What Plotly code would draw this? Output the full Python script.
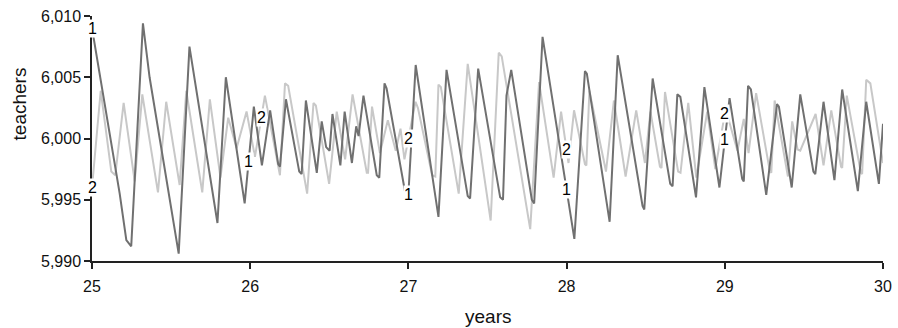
import numpy as np
import plotly.graph_objects as go

# Series 1 (dark) - turning points
t1 = [25.000, 25.175, 25.217, 25.248, 25.322, 25.364, 25.548, 25.616, 25.793, 25.846,
      25.965, 26.023, 26.074, 26.126, 26.177, 26.188, 26.226, 26.310, 26.325, 26.352,
      26.421, 26.452, 26.480, 26.502, 26.520, 26.570, 26.597, 26.643, 26.670, 26.685,
      26.716, 26.800, 26.816, 26.849, 26.862, 26.985, 26.998, 27.046, 27.190, 27.241,
      27.375, 27.390, 27.441, 27.580, 27.598, 27.620, 27.650, 27.780, 27.795, 27.848,
      28.049, 28.116, 28.128, 28.262, 28.272, 28.323, 28.480, 28.491, 28.544, 28.655,
      28.670, 28.700, 28.719, 28.818, 28.871, 28.966, 29.030, 29.110, 29.120, 29.147,
      29.165, 29.262, 29.330, 29.342, 29.423, 29.477, 29.560, 29.572, 29.624, 29.693,
      29.742, 29.841, 29.894, 29.974, 30.000]
v1 = [6009.0, 5995.5, 5991.7, 5991.2, 6009.4, 6005.0, 5990.6, 6007.5, 5993.1, 6005.0,
      5994.7, 6002.6, 5997.8, 6002.3, 5997.9, 5997.7, 6003.2, 5997.3, 5997.1, 6003.1,
      5997.2, 6001.4, 5999.3, 5999.0, 6002.0, 5997.8, 6002.2, 5998.0, 6001.0, 6000.2,
      6003.5, 5997.0, 5996.8, 6004.5, 6004.1, 5995.2, 5995.0, 6006.0, 5993.6, 6005.6,
      5995.3, 5995.1, 6005.7, 5995.2, 5995.0, 6003.5, 6005.6, 5995.0, 5994.7, 6008.3,
      5991.8, 6005.5, 6005.3, 5993.8, 5993.2, 6006.8, 5994.5, 5994.2, 6004.9, 5996.3,
      5996.1, 6003.6, 6003.4, 5995.2, 6004.2, 5996.0, 6003.3, 5996.7, 5996.5, 6004.3,
      6004.0, 5995.4, 6002.8, 6002.6, 5996.0, 6003.6, 5997.3, 5997.1, 6003.0, 5996.6,
      6004.0, 5995.7, 6003.0, 5996.3, 6001.2]

# Series 2 (light) - turning points
t2 = [25.000, 25.055, 25.122, 25.147, 25.200, 25.270, 25.318, 25.417, 25.469, 25.554,
      25.596, 25.697, 25.745, 25.812, 25.861, 25.914, 25.977, 26.030, 26.093, 26.188,
      26.220, 26.240, 26.360, 26.400, 26.415, 26.499, 26.547, 26.600, 26.647, 26.737,
      26.745, 26.770, 26.820, 26.870, 26.920, 26.950, 26.975, 27.045, 27.060, 27.150,
      27.170, 27.190, 27.205, 27.318, 27.375, 27.520, 27.571, 27.590, 27.770, 27.826,
      27.918, 27.965, 28.012, 28.047, 28.116, 28.125, 28.144, 28.249, 28.299, 28.373,
      28.440, 28.495, 28.530, 28.590, 28.600, 28.622, 28.705, 28.720, 28.769, 28.820,
      28.889, 28.940, 29.005, 29.080, 29.120, 29.150, 29.198, 29.285, 29.294, 29.315,
      29.399, 29.426, 29.460, 29.477, 29.574, 29.624, 29.673, 29.735, 29.742, 29.771,
      29.860, 29.868, 29.894, 29.920, 30.000]
v2 = [5996.0, 6003.9, 5997.3, 5997.0, 6002.9, 5996.5, 6003.6, 5995.6, 6003.0, 5996.2,
      6003.9, 5995.6, 6003.2, 5996.8, 6001.7, 5999.2, 6002.2, 5998.5, 6003.5, 5997.0,
      6004.5, 6004.3, 5995.5, 6002.9, 6002.7, 5996.3, 6002.2, 5998.3, 6003.6, 5997.2,
      5997.2, 6002.6, 5998.8, 6001.5, 5999.0, 6000.8, 5998.3, 6003.0, 6002.5, 5997.0,
      5996.9, 6004.4, 6004.2, 5995.5, 6006.1, 5993.3, 6007.0, 6006.7, 5992.6, 6004.6,
      5996.8, 6002.2, 5998.0, 6002.3, 5997.9, 5997.8, 6003.9, 5997.3, 6003.1, 5996.9,
      6002.3, 5998.0, 6002.2, 5997.7, 5997.6, 6003.8, 5997.3, 5997.2, 6002.9, 5996.8,
      6002.2, 5997.5, 6002.4, 5999.0, 6001.6, 5998.8, 6003.7, 5997.3, 5997.2, 6003.1,
      5996.9, 6001.4, 5999.1, 5999.0, 6002.0, 5997.8, 6002.3, 5997.7, 5997.6, 6003.5,
      5997.2, 5997.1, 6004.8, 6004.5, 5998.0]

# Series label positions (years) along each line
label1_years = [25.0, 25.99, 27.0, 28.0, 29.0]
label2_years = [25.0, 26.07, 27.0, 28.0, 29.0]

y_ticks = [5990, 5995, 6000, 6005, 6010]
x_ticks = [25, 26, 27, 28, 29, 30]

DARK = "#707070"
LIGHT = "#c8c8c8"
FONT = "Liberation Sans, Arial, sans-serif"
TXT = "#111111"

fig = go.Figure()
fig.add_trace(go.Scatter(x=t2, y=v2, mode="lines", line=dict(color=LIGHT, width=2),
                         name="2", showlegend=False, hoverinfo="skip"))
fig.add_trace(go.Scatter(x=t1, y=v1, mode="lines", line=dict(color=DARK, width=2),
                         name="1", showlegend=False, hoverinfo="skip"))

annotations = []
for yrs, t, v, txt in [(label1_years, t1, v1, "1"), (label2_years, t2, v2, "2")]:
    for yr in yrs:
        annotations.append(dict(x=yr, y=float(np.interp(yr, t, v)), xref="x", yref="y",
                                text=txt, showarrow=False, bgcolor="white", borderpad=0,
                                font=dict(family=FONT, size=16, color="#000000")))

annotations.append(dict(x=0.5, y=-0.225, xref="paper", yref="paper", text="years",
                        showarrow=False, xanchor="center", yanchor="middle",
                        font=dict(family=FONT, size=19, color=TXT)))
annotations.append(dict(x=-0.092, y=0.64, xref="paper", yref="paper", text="teachers",
                        showarrow=False, textangle=-90, xanchor="center", yanchor="middle",
                        font=dict(family=FONT, size=19, color=TXT)))

fig.update_layout(
    width=898, height=328,
    margin=dict(l=92, r=15, t=16, b=67, autoexpand=False),
    paper_bgcolor="white", plot_bgcolor="white",
    annotations=annotations,
    font=dict(family=FONT, size=16, color=TXT),
    hovermode=False,
)
fig.update_xaxes(range=[25, 30], tickvals=x_ticks, ticktext=[str(v) for v in x_ticks],
                 automargin=False, ticklabelstandoff=4,
                 showgrid=False, zeroline=False, showline=True, linecolor="#222222",
                 linewidth=1.5, ticks="outside", ticklen=6, tickcolor="#222222",
                 tickwidth=1.5, tickfont=dict(family=FONT, size=16, color=TXT))
fig.update_yaxes(range=[5990, 6010], tickvals=y_ticks,
                 ticktext=[f"{v:,}" for v in y_ticks], automargin=False,
                 showgrid=False, zeroline=False, showline=True, linecolor="#222222",
                 linewidth=1.5, ticks="outside", ticklen=6, tickcolor="#222222",
                 tickwidth=1.5, tickfont=dict(family=FONT, size=16, color=TXT))

fig.write_html("out.html", config={"displayModeBar": False},
               post_script="document.body.style.margin='0';document.body.style.overflow='hidden';")
